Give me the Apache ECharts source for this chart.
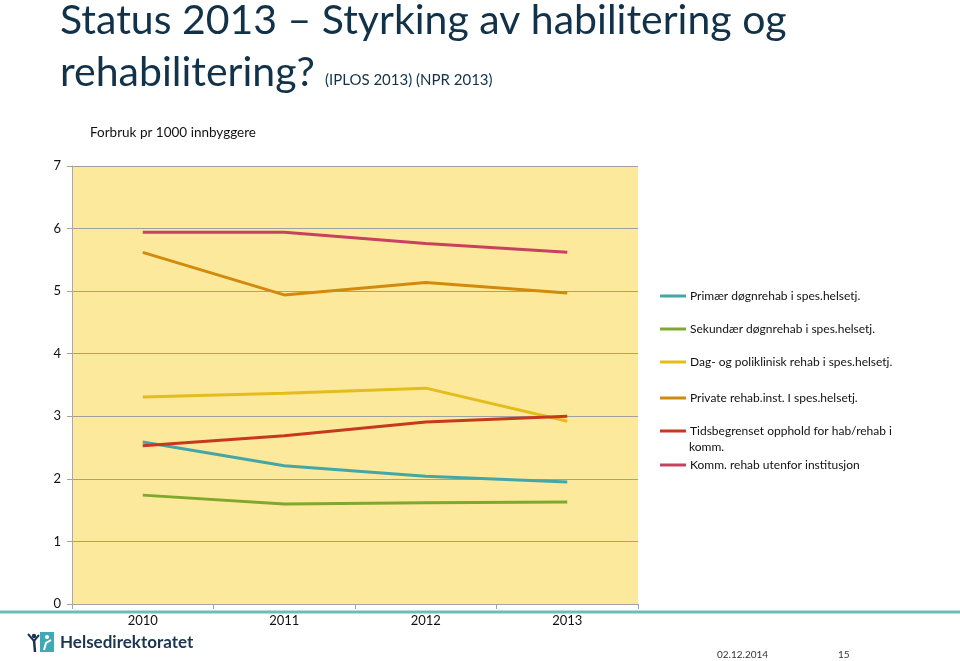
<!DOCTYPE html>
<html>
<head>
<meta charset="utf-8">
<script src="https://cdn.jsdelivr.net/npm/echarts@6/dist/echarts.min.js"></script>
<style>
html,body{margin:0;padding:0;background:#fff;}
#chart{width:960px;height:661px;}
</style>
</head>
<body>
<div id="chart"></div>
<script>
const categories = ['2010', '2011', '2012', '2013'];
const seriesNames = [
  'Primær døgnrehab i spes.helsetj.',
  'Sekundær døgnrehab i spes.helsetj.',
  'Dag- og poliklinisk rehab i spes.helsetj.',
  'Private rehab.inst. I spes.helsetj.',
  'Tidsbegrenset opphold for hab/rehab i komm.',
  'Komm. rehab utenfor institusjon'
];
const primaer = [2.59, 2.21, 2.04, 1.95];
const sekundaer = [1.74, 1.60, 1.62, 1.63];
const dagPoli = [3.31, 3.37, 3.45, 2.92];
const privateRehab = [5.62, 4.94, 5.14, 4.97];
const tidsbegrenset = [2.53, 2.69, 2.91, 3.00];
const kommRehab = [5.94, 5.94, 5.76, 5.62];
const yTicks = [0, 1, 2, 3, 4, 5, 6, 7];

const seriesData = [primaer, sekundaer, dagPoli, privateRehab, tidsbegrenset, kommRehab];
const colors = ['#44A6A6', '#80A82C', '#E3BD1C', '#D18A0C', '#C7381E', '#C6425F'];
const legendY = [298, 331, 364, 400, 433, 467];

const FONT = 'Lato, "Open Sans", sans-serif';
const chart = echarts.init(document.getElementById('chart'));

const legends = seriesNames.map((n, i) => ({
  data: [n],
  left: 660,
  top: legendY[i] - 8,
  padding: 0,
  icon: 'rect',
  itemWidth: 26,
  itemHeight: 3,
  itemGap: 0,
  selectedMode: false,
  formatter: (name) => name === seriesNames[4] ? 'Tidsbegrenset opphold for hab/rehab i' : name,
  textStyle: { fontFamily: FONT, fontSize: 12, color: '#111', padding: [0, 0, 0, -1] }
}));

chart.setOption({
  animation: false,
  textStyle: { fontFamily: FONT },
  grid: {
    left: 72, right: 322, top: 166, bottom: 57,
    show: true, backgroundColor: '#FDE99C', borderWidth: 0
  },
  legend: legends,
  xAxis: {
    type: 'category',
    data: categories,
    boundaryGap: true,
    axisLine: { show: true, lineStyle: { color: '#A3A3A3', width: 1 } },
    axisTick: { show: true, length: 5, lineStyle: { color: '#A3A3A3' } },
    axisLabel: { color: '#111', fontSize: 13, margin: 10, fontFamily: FONT }
  },
  yAxis: {
    type: 'value',
    min: yTicks[0], max: yTicks[yTicks.length - 1], interval: 1,
    axisLine: { show: true, lineStyle: { color: '#B5A98A', width: 1 } },
    axisTick: { show: true, length: 5, lineStyle: { color: '#A3A3A3' } },
    axisLabel: { color: '#111', fontSize: 13, margin: 11, fontFamily: FONT },
    splitLine: { show: true, lineStyle: { color: '#A0A0A0', width: 1 } }
  },
  series: seriesNames.map((n, i) => ({
    name: n,
    type: 'line',
    data: seriesData[i],
    symbol: 'none',
    lineStyle: { color: colors[i], width: 3 },
    itemStyle: { color: colors[i] },
    z: 3
  })),
  graphic: [
    { type: 'text', left: 60, top: 0, style: { text: 'Status 2013 – Styrking av habilitering og', fontFamily: FONT, fontSize: 41, fill: '#12324A' } },
    { type: 'text', left: 60, top: 52, style: { text: 'rehabilitering?', fontFamily: FONT, fontSize: 41, fill: '#12324A' } },
    { type: 'text', left: 325, top: 73, style: { text: '(IPLOS 2013) (NPR 2013)', fontFamily: FONT, fontSize: 15, fill: '#12324A' } },
    { type: 'text', left: 90, top: 126, style: { text: 'Forbruk pr 1000 innbyggere', fontFamily: FONT, fontSize: 13.5, fill: '#111' } },
    { type: 'text', left: 689, top: 441, style: { text: 'komm.', fontFamily: FONT, fontSize: 12, fill: '#111' } },
    { type: 'line', shape: { x1: 0, y1: 612, x2: 960, y2: 612 }, style: { stroke: '#6DBDB6', lineWidth: 3 }, z: 10 },
    // logo
    { type: 'rect', shape: { x: 40, y: 632, width: 14, height: 20 }, style: { fill: '#3FA9B5' } },
    { type: 'circle', shape: { cx: 47, cy: 637, r: 2 }, style: { fill: '#fff' } },
    { type: 'polyline', shape: { points: [[44, 650], [46, 643], [51, 640]] }, style: { stroke: '#fff', lineWidth: 2, fill: null } },
    { type: 'circle', shape: { cx: 34, cy: 636, r: 2.2 }, style: { fill: '#1B3550' } },
    { type: 'polyline', shape: { points: [[28, 634], [34, 641], [39, 635]] }, style: { stroke: '#1B3550', lineWidth: 2, fill: null } },
    { type: 'polyline', shape: { points: [[34, 640], [35, 652]] }, style: { stroke: '#1B3550', lineWidth: 2.5, fill: null } },
    { type: 'text', left: 60, top: 634, style: { text: 'Helsedirektoratet', fontFamily: FONT, fontSize: 17, fontWeight: 'bold', fill: '#1B3550' } },
    { type: 'text', left: 717, top: 650, style: { text: '02.12.2014', fontFamily: FONT, fontSize: 10, fill: '#333' } },
    { type: 'text', left: 838, top: 650, style: { text: '15', fontFamily: FONT, fontSize: 10, fill: '#333' } }
  ]
});
</script>
</body>
</html>
